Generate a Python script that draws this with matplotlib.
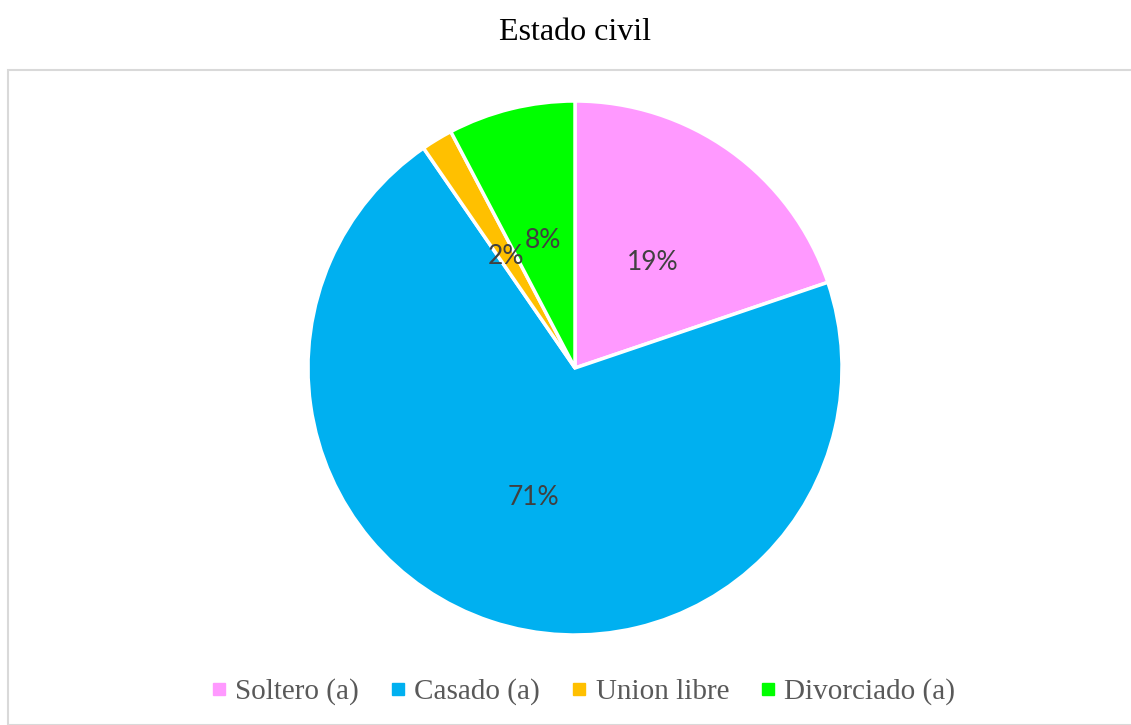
import matplotlib
matplotlib.use("Agg")
import matplotlib.pyplot as plt
from matplotlib.lines import Line2D
from matplotlib.patches import Rectangle

# data (shares, labels as printed on the chart)
categories = ["Soltero (a)", "Casado (a)", "Union libre", "Divorciado (a)"]
shares = [19.8, 70.6, 1.9, 7.7]
pct_labels = ["19%", "71%", "2%", "8%"]
colors = ["#FF99FF", "#00B0F0", "#FFC000", "#00FF00"]

W, H = 1131, 725
fig = plt.figure(figsize=(W / 100, H / 100), dpi=100)

# light grey chart border (runs off the right and bottom edges)
fig.patches.append(Rectangle((7.5 / W, 0), 1.2, 1 - 69.5 / H, transform=fig.transFigure,
                             fill=False, edgecolor="#D9D9D9", linewidth=1.5))

fig.text(575 / W, 1 - 32 / H, "Estado civil", ha="center", va="center",
         fontsize=23, family="Liberation Serif", color="black")

# pie centred at (575, 368) px with radius 267 px
cx, cy, r = 575, 368, 267
ax = fig.add_axes([(cx - r) / W, (H - cy - r) / H, 2 * r / W, 2 * r / H])
wedges, texts = ax.pie(
    shares, colors=colors, startangle=90, counterclock=False,
    labels=pct_labels, labeldistance=0.5,
    wedgeprops=dict(edgecolor="white", linewidth=2.5),
    textprops=dict(color="#404040", fontsize=19, family="Lato"))
for t in texts:
    t.set_ha("center")
    t.set_va("center_baseline")
ax.set_xlim(-1, 1)
ax.set_ylim(-1, 1)
ax.set_aspect("auto")
ax.axis("off")

handles = [Line2D([], [], marker="s", linestyle="none", markersize=8,
                  markerfacecolor=c, markeredgecolor=c) for c in colors]
fig.legend(handles, categories, loc="center", bbox_to_anchor=(580 / W, 1 - 692 / H),
           ncol=4, frameon=False, handletextpad=0.05, columnspacing=0.85,
           handlelength=1.0,
           prop=dict(family="Liberation Serif", size=21), labelcolor="#595959")

fig.savefig("out.png", dpi=100)
